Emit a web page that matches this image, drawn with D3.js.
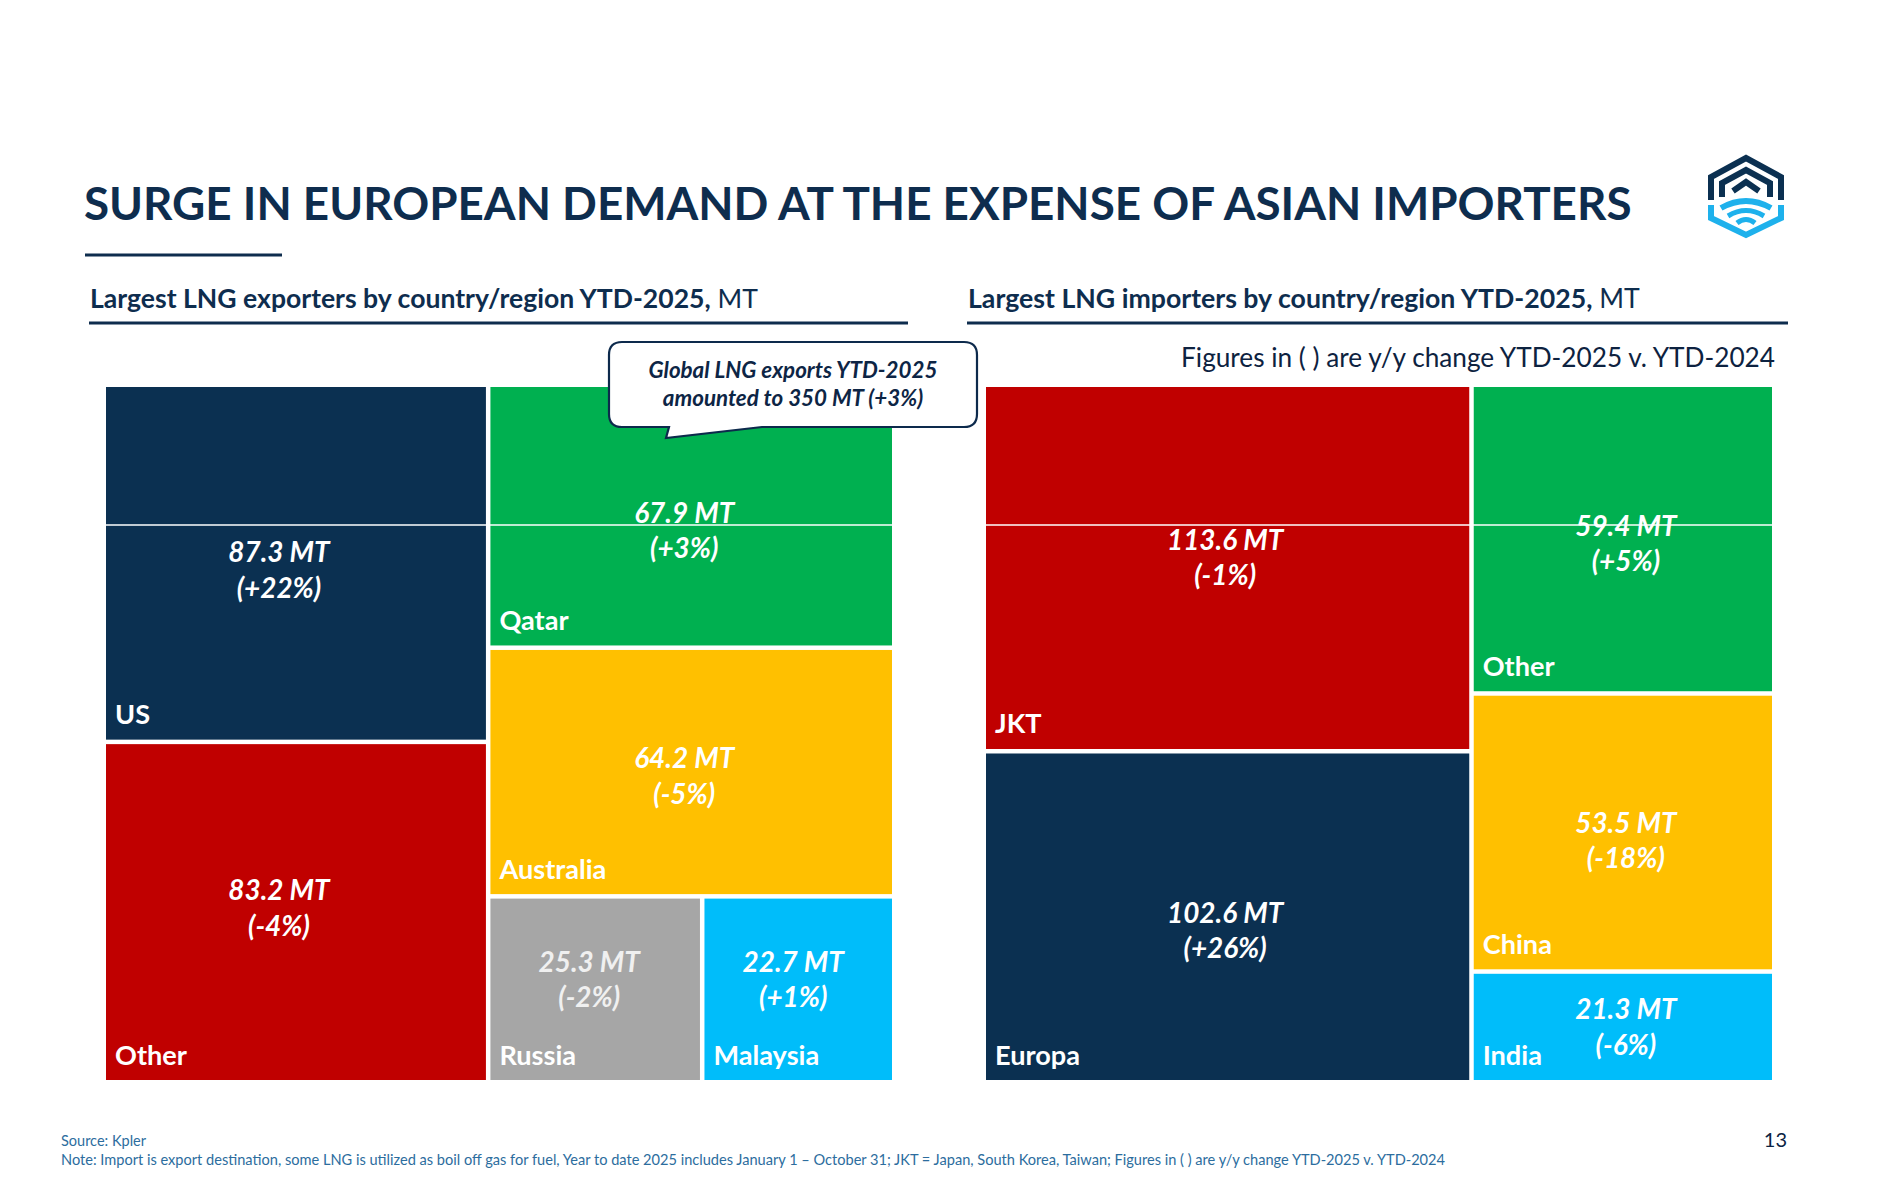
<!DOCTYPE html>
<html>
<head>
<meta charset="utf-8">
<script src="https://cdn.jsdelivr.net/npm/d3@7"></script>
<style>
  html, body { margin: 0; padding: 0; background: #ffffff; }
  svg { display: block; }
</style>
</head>
<body>
<svg id="chart" width="1878" height="1179"></svg>
<script>
// ---------------- DATA ----------------
const exporterNames   = ["US", "Other", "Qatar", "Australia", "Russia", "Malaysia"];
const exporterValues  = [87.3, 83.2, 67.9, 64.2, 25.3, 22.7];
const exporterChanges = ["+22%", "-4%", "+3%", "-5%", "-2%", "+1%"];

const importerNames   = ["JKT", "Europa", "Other", "China", "India"];
const importerValues  = [113.6, 102.6, 59.4, 53.5, 21.3];
const importerChanges = ["-1%", "+26%", "+5%", "-18%", "-6%"];

const titleText   = "SURGE IN EUROPEAN DEMAND AT THE EXPENSE OF ASIAN IMPORTERS";
const leftTitle   = "Largest LNG exporters by country/region YTD-2025,";
const rightTitle  = "Largest LNG importers by country/region YTD-2025,";
const unitText    = " MT";
const figuresNote = "Figures in ( ) are y/y change YTD-2025 v. YTD-2024";
const calloutLines = ["Global LNG exports YTD-2025", "amounted to 350 MT (+3%)"];
const sourceText  = "Source: Kpler";
const noteText    = "Note: Import is export destination, some LNG is utilized as boil off gas for fuel, Year to date 2025 includes January 1 \u2013 October 31; JKT = Japan, South Korea, Taiwan; Figures in ( ) are y/y change YTD-2025 v. YTD-2024";
const pageNumber  = "13";

// ---------------- STYLE ----------------
const NAVY = "#0b3051", RED = "#c00000", GREEN = "#00b050", YELLOW = "#ffc000", GREY = "#a6a6a6", LBLUE = "#00bdfa";
const TEXT_NAVY = "#0e2d4e";
const exporterColors = {US: NAVY, Other: RED, Qatar: GREEN, Australia: YELLOW, Russia: GREY, Malaysia: LBLUE};
const importerColors = {JKT: RED, Europa: NAVY, Other: GREEN, China: YELLOW, India: LBLUE};
// small hand-placement nudges of the value labels, as in the slide
const exporterNudge = {US: [-17, 10.5], Other: [-17, -0.5], Qatar: [-7, 18], Australia: [-7, 7.5], Russia: [-6, -6], Malaysia: [-5, -6]};
const importerNudge = {JKT: [-2.5, -6.5], Europa: [-2.5, 17.5], Other: [3, 8], China: [3, 11.5], India: [3, 4]};

const FONT = "Lato, 'Open Sans', 'DejaVu Sans', sans-serif";
const svg = d3.select("#chart");
svg.append("rect").attr("width", 1878).attr("height", 1179).attr("fill", "#fff");

function fit(sel, target) {
  const w = sel.node().getComputedTextLength();
  const fs = parseFloat(sel.attr("font-size"));
  if (w > 0) sel.attr("font-size", (fs * target / w).toFixed(2));
  return sel;
}

// ---------------- HEADER ----------------
fit(svg.append("text").attr("x", 84).attr("y", 220)
  .attr("font-family", FONT).attr("font-weight", 700).attr("font-size", 48)
  .attr("fill", TEXT_NAVY).text(titleText), 1548);

svg.append("line").attr("x1", 85).attr("x2", 282).attr("y1", 255).attr("y2", 255)
  .attr("stroke", TEXT_NAVY).attr("stroke-width", 3);

function subtitle(x, txt, width, lineX2) {
  const t = svg.append("text").attr("x", x).attr("y", 308)
    .attr("font-family", FONT).attr("font-size", 24).attr("fill", TEXT_NAVY);
  t.append("tspan").attr("font-weight", 700).text(txt);
  t.append("tspan").attr("font-weight", 400).text(unitText);
  fit(t, width);
  svg.append("line").attr("x1", x - 1).attr("x2", lineX2).attr("y1", 323).attr("y2", 323)
    .attr("stroke", TEXT_NAVY).attr("stroke-width", 3);
}
subtitle(90, leftTitle, 668, 908);
subtitle(968, rightTitle, 672, 1788);

fit(svg.append("text").attr("x", 1775).attr("y", 367).attr("text-anchor", "end")
  .attr("font-family", FONT).attr("font-weight", 400).attr("font-size", 24)
  .attr("fill", "#0d2240").text(figuresNote), 594);

// ---------------- LOGO ----------------
const logo = svg.append("g").attr("transform", "translate(1746,196)")
  .attr("fill", "none").attr("stroke-linejoin", "miter");
logo.append("path").attr("d", "M-35,4 V-19 L0,-38 L35,-19 V4").attr("stroke", NAVY).attr("stroke-width", 6);
logo.append("path").attr("d", "M-24,1 V-13 L0,-26 L24,-13 V1").attr("stroke", NAVY).attr("stroke-width", 6);
logo.append("path").attr("d", "M-13,-5 L0,-14 L13,-5").attr("stroke", NAVY).attr("stroke-width", 6);
logo.append("path").attr("d", "M-35,9 V22 L0,39 L35,22 V9").attr("stroke", "#1eb1ec").attr("stroke-width", 6);
logo.append("path").attr("d", "M-25,12 Q0,-2 25,12").attr("stroke", "#1eb1ec").attr("stroke-width", 6);
logo.append("path").attr("d", "M-18,20 Q0,9 18,20").attr("stroke", "#1eb1ec").attr("stroke-width", 5);
logo.append("path").attr("d", "M-9,27 Q0,20 9,27").attr("stroke", "#1eb1ec").attr("stroke-width", 5);

// ---------------- TREEMAPS ----------------
function drawTreemap(names, values, changes, colors, nudge, x0, y0, x1, y1) {
  const root = d3.hierarchy({children: names.map((n, i) => ({name: n, value: values[i], change: changes[i]}))})
    .sum(d => d.value || 0)
    .sort((a, b) => b.value - a.value);
  d3.treemap().tile(d3.treemapSquarify.ratio(1))
    .size([x1 - x0, y1 - y0]).paddingInner(4.5)(root);
  const g = svg.append("g").attr("transform", `translate(${x0},${y0})`);
  const cells = g.selectAll("g.cell").data(root.leaves()).join("g").attr("class", "cell");
  cells.append("rect")
    .attr("x", d => d.x0).attr("y", d => d.y0)
    .attr("width", d => d.x1 - d.x0).attr("height", d => d.y1 - d.y0)
    .attr("fill", d => colors[d.data.name]);
  const labels = cells.append("text")
    .attr("x", d => d.x0 + 9).attr("y", d => d.y1 - 15.5)
    .attr("font-family", FONT).attr("font-weight", 700).attr("font-size", 24)
    .attr("fill", "#fff").text(d => d.data.name);
  const vals = cells.append("text")
    .attr("text-anchor", "middle")
    .attr("font-family", FONT).attr("font-weight", 700).attr("font-style", "italic").attr("font-size", 24)
    .attr("fill", d => d.data.name === "Russia" ? "#f0f0f0" : "#fff");
  vals.append("tspan")
    .attr("x", d => (d.x0 + d.x1) / 2 + nudge[d.data.name][0])
    .attr("y", d => (d.y0 + d.y1) / 2 - 11.5 + nudge[d.data.name][1])
    .text(d => d3.format(".1f")(d.data.value) + " MT");
  vals.append("tspan")
    .attr("x", d => (d.x0 + d.x1) / 2 + nudge[d.data.name][0])
    .attr("dy", 35.5)
    .text(d => "(" + d.data.change + ")");
  return {labels, vals};
}

const L = drawTreemap(exporterNames, exporterValues, exporterChanges, exporterColors, exporterNudge, 106, 387, 892, 1080);
const R = drawTreemap(importerNames, importerValues, importerChanges, importerColors, importerNudge, 986, 387, 1772, 1080);

// uniform font sizes derived from reference text widths
(function sizeFonts() {
  const aus = L.labels.filter(d => d.data.name === "Australia");
  const lw = aus.node().getComputedTextLength();
  const labelSize = 24 * 107 / lw;
  L.labels.attr("font-size", labelSize); R.labels.attr("font-size", labelSize);
  const v = L.vals.filter(d => d.data.name === "Australia").select("tspan");
  const vw = v.node().getComputedTextLength();
  const valSize = 24 * 100 / vw;
  L.vals.attr("font-size", valSize); R.vals.attr("font-size", valSize);
})();

// thin white guide line that crosses the slide in the original
svg.append("line").attr("x1", 106).attr("x2", 1772).attr("y1", 525).attr("y2", 525)
  .attr("stroke", "#fff").attr("stroke-width", 1.5);

// ---------------- CALLOUT ----------------
const cx0 = 609, cy0 = 342, cx1 = 977, cy1 = 427, r = 13;
const calloutPath = `M${cx0 + r},${cy0} H${cx1 - r} Q${cx1},${cy0} ${cx1},${cy0 + r} V${cy1 - r} Q${cx1},${cy1} ${cx1 - r},${cy1}
  H762 L666,438 L669,${cy1} H${cx0 + r} Q${cx0},${cy1} ${cx0},${cy1 - r} V${cy0 + r} Q${cx0},${cy0} ${cx0 + r},${cy0} Z`;
svg.append("path").attr("d", calloutPath).attr("fill", "#fff")
  .attr("stroke", "#0d2a4c").attr("stroke-width", 2.2);
const cl1 = svg.append("text").attr("x", 793).attr("y", 378).attr("text-anchor", "middle")
  .attr("font-family", FONT).attr("font-weight", 700).attr("font-style", "italic").attr("font-size", 20)
  .attr("fill", "#0d2545").text(calloutLines[0]);
fit(cl1, 289);
const cl2 = svg.append("text").attr("x", 793).attr("y", 406).attr("text-anchor", "middle")
  .attr("font-family", FONT).attr("font-weight", 700).attr("font-style", "italic").attr("font-size", cl1.attr("font-size"))
  .attr("fill", "#0d2545").text(calloutLines[1]);

// ---------------- FOOTER ----------------
svg.append("text").attr("x", 61).attr("y", 1146)
  .attr("font-family", FONT).attr("font-size", 14).attr("fill", "#2c6d9e").text(sourceText)
  .call(s => fit(s, 85));
svg.append("text").attr("x", 61).attr("y", 1165)
  .attr("font-family", FONT).attr("font-size", 14).attr("fill", "#2c6d9e").text(noteText)
  .call(s => fit(s, 1385));
svg.append("text").attr("x", 1787).attr("y", 1147).attr("text-anchor", "end")
  .attr("font-family", FONT).attr("font-size", 20).attr("fill", "#0b2343").text(pageNumber);
</script>
</body>
</html>
